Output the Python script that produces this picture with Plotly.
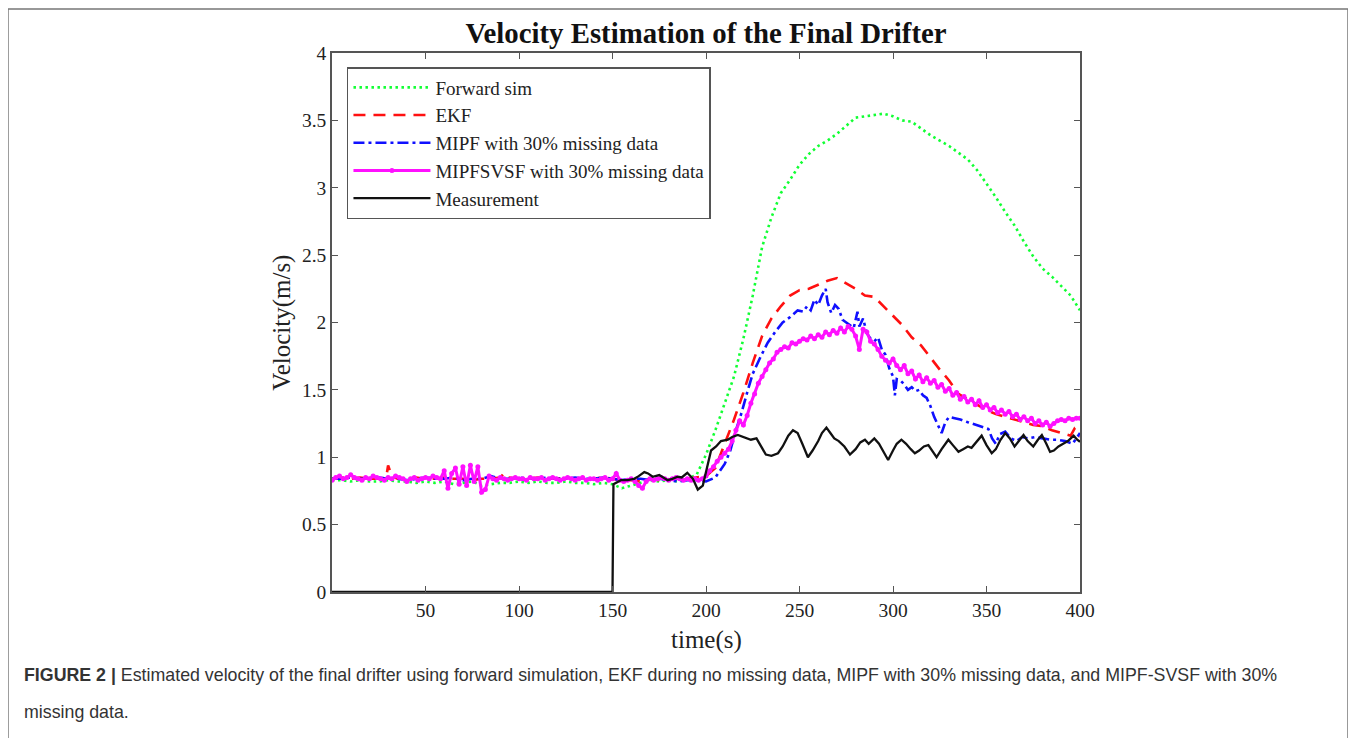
import plotly.graph_objects as go

# ---------------- data ----------------
fwd_t = [0, 5, 10, 15, 20, 25, 30, 35, 40, 45, 50, 55, 60, 65, 70, 75, 80, 85, 90, 95,
         100, 105, 110, 115, 120, 125, 130, 135, 140, 145, 150, 155, 160, 165, 170, 175,
         180, 185, 190, 195, 200, 205, 210, 215, 220, 225, 230, 235, 240, 245, 250, 255,
         260, 265, 270, 275, 280, 285, 290, 295, 300, 305, 310, 315, 320, 325, 330, 335,
         340, 345, 350, 355, 360, 365, 370, 375, 380, 385, 390, 395, 400]
fwd_v = [0.83, 0.83, 0.82, 0.83, 0.82, 0.82, 0.83, 0.82, 0.82, 0.81, 0.82, 0.81, 0.82, 0.80,
         0.81, 0.82, 0.79, 0.80, 0.81, 0.81, 0.82, 0.81, 0.82, 0.81, 0.81, 0.82, 0.81, 0.81,
         0.80, 0.81, 0.80, 0.77, 0.79, 0.81, 0.83, 0.82, 0.83, 0.82, 0.84, 0.87, 1.02, 1.20,
         1.40, 1.60, 1.88, 2.20, 2.56, 2.78, 2.96, 3.06, 3.17, 3.25, 3.31, 3.35, 3.40, 3.46,
         3.52, 3.53, 3.54, 3.55, 3.53, 3.50, 3.49, 3.44, 3.39, 3.35, 3.31, 3.26, 3.21, 3.13,
         3.03, 2.93, 2.82, 2.72, 2.60, 2.49, 2.40, 2.34, 2.27, 2.20, 2.09]

ekf_t = [0, 5, 10, 15, 20, 25, 29, 30, 32, 35, 40, 45, 50, 55, 60, 65, 70, 75, 80, 85, 90,
         92, 94, 100, 105, 110, 115, 120, 125, 130, 135, 140, 145, 150, 155, 160, 165, 170,
         175, 180, 185, 190, 195, 200, 205, 210, 215, 220, 225, 230, 235, 240, 245, 250,
         255, 260, 265, 270, 275, 280, 285, 290, 295, 300, 305, 310, 315, 320, 325, 330,
         335, 340, 345, 350, 355, 360, 365, 370, 375, 380, 385, 390, 395, 397, 400]
ekf_v = [0.84, 0.85, 0.84, 0.85, 0.84, 0.84, 0.85, 0.94, 0.86, 0.84, 0.84, 0.85, 0.84, 0.84,
         0.85, 0.84, 0.84, 0.83, 0.84, 0.84, 0.85, 0.88, 0.85, 0.84, 0.84, 0.85, 0.84, 0.84,
         0.85, 0.84, 0.84, 0.84, 0.85, 0.84, 0.83, 0.83, 0.82, 0.84, 0.83, 0.83, 0.84, 0.84,
         0.85, 0.86, 0.92, 1.10, 1.28, 1.48, 1.70, 1.90, 2.03, 2.12, 2.20, 2.24, 2.25, 2.28,
         2.31, 2.33, 2.29, 2.25, 2.20, 2.19, 2.12, 2.05, 1.98, 1.89, 1.83, 1.74, 1.65, 1.57,
         1.47, 1.43, 1.39, 1.35, 1.32, 1.30, 1.28, 1.26, 1.24, 1.23, 1.20, 1.18, 1.16, 1.21,
         1.15]

mipf_t = [0, 5, 10, 15, 20, 25, 30, 35, 40, 45, 50, 55, 60, 65, 70, 75, 80, 85, 90, 95, 100,
          105, 110, 115, 120, 125, 130, 135, 140, 145, 150, 155, 160, 165, 170, 175, 180, 185,
          190, 195, 200, 205, 210, 213, 216, 219, 222, 225, 229, 233, 237, 241, 245, 249, 252,
          254, 256, 258, 260, 262, 264, 265, 267, 269, 271, 273, 275, 277, 279, 281, 282, 284,
          286, 288, 290, 292, 294, 296, 298, 300, 301, 302, 304, 306, 308, 310, 312, 314, 316,
          318, 320, 322, 324, 326, 328, 330, 333, 336, 340, 344, 348, 351, 353, 355, 357, 360,
          363, 366, 369, 372, 376, 380, 384, 388, 392, 396, 398, 400]
mipf_v = [0.84, 0.84, 0.85, 0.84, 0.84, 0.85, 0.84, 0.84, 0.83, 0.84, 0.85, 0.84, 0.84, 0.85,
          0.83, 0.84, 0.84, 0.86, 0.84, 0.84, 0.85, 0.84, 0.84, 0.85, 0.84, 0.84, 0.85, 0.84,
          0.84, 0.85, 0.84, 0.83, 0.84, 0.84, 0.83, 0.84, 0.83, 0.82, 0.83, 0.83, 0.82, 0.85,
          0.95, 1.05, 1.20, 1.33, 1.48, 1.62, 1.74, 1.85, 1.93, 2.00, 2.04, 2.09, 2.08, 2.12,
          2.09, 2.17, 2.13, 2.20, 2.25, 2.15, 2.07, 2.13, 2.10, 2.02, 2.00, 1.98, 1.96, 2.08,
          1.97, 2.03, 1.92, 1.88, 1.86, 1.89, 1.80, 1.76, 1.66, 1.60, 1.46, 1.58, 1.57, 1.54,
          1.50, 1.52, 1.49, 1.50, 1.46, 1.44, 1.38, 1.30, 1.24, 1.18, 1.26, 1.30, 1.29, 1.28,
          1.26, 1.24, 1.22, 1.21, 1.14, 1.10, 1.17, 1.19, 1.14, 1.12, 1.15, 1.14, 1.15, 1.14,
          1.13, 1.13, 1.12, 1.10, 1.14, 1.18]

svsf_v = [0.83, 0.85, 0.86, 0.84, 0.85, 0.87, 0.85, 0.84, 0.83, 0.85, 0.84,
          0.86, 0.85, 0.84, 0.83, 0.85, 0.84, 0.86, 0.85, 0.84, 0.82,
          0.84, 0.85, 0.83, 0.84, 0.85, 0.84, 0.86, 0.85, 0.84,
          0.90, 0.77, 0.88, 0.92, 0.80, 0.93, 0.79, 0.94, 0.82, 0.93, 0.74,
          0.76, 0.86, 0.84, 0.83, 0.85, 0.84, 0.83, 0.84, 0.85, 0.84,
          0.84, 0.83, 0.85, 0.84, 0.84, 0.85, 0.83, 0.84, 0.85, 0.84, 0.83, 0.84, 0.85,
          0.84, 0.83, 0.84, 0.85, 0.83, 0.84, 0.84, 0.83, 0.84, 0.85, 0.83, 0.84,
          0.88, 0.83, 0.82, 0.83, 0.84, 0.82, 0.79, 0.77, 0.82, 0.84, 0.83, 0.84,
          0.85, 0.84, 0.83, 0.84, 0.85, 0.84, 0.83, 0.84, 0.83, 0.84, 0.83, 0.84,
          0.86, 0.90, 0.93, 0.97, 1.00, 1.03, 1.06, 1.12, 1.20, 1.27, 1.24, 1.31, 1.40,
          1.47, 1.55, 1.60, 1.65, 1.70, 1.73, 1.78, 1.80, 1.82, 1.81, 1.85, 1.84, 1.86,
          1.88, 1.87, 1.90, 1.88, 1.91, 1.89, 1.93, 1.91, 1.94, 1.92, 1.96, 1.93, 1.97,
          1.95, 1.90, 1.80, 1.95, 1.93, 1.86, 1.84, 1.80, 1.75, 1.72, 1.70, 1.73,
          1.68, 1.65, 1.68, 1.62, 1.64, 1.58, 1.61, 1.56, 1.59, 1.55, 1.57, 1.52, 1.54,
          1.49, 1.51, 1.46, 1.48, 1.43, 1.45, 1.41, 1.43, 1.39, 1.42, 1.37, 1.39, 1.35,
          1.37, 1.33, 1.35, 1.32, 1.34, 1.30, 1.32, 1.28, 1.30, 1.27, 1.29, 1.25, 1.27,
          1.24, 1.26, 1.23, 1.25, 1.27, 1.28, 1.27, 1.29, 1.28, 1.29, 1.29]
svsf_t = [2 * i for i in range(len(svsf_v))]

meas_t = [0, 150, 150.5, 152, 154.5, 158, 161.6, 164, 167, 169, 171.5, 175, 177, 179.5, 182,
          184.9, 187, 190, 193, 195.6, 198.3, 200.5, 202.7, 205.4, 208, 211.7, 214, 217, 220,
          222, 224, 227, 229.5, 232, 235, 238.5, 241, 244, 246.5, 249, 251.5, 254.5, 257, 260,
          262, 264.4, 266.5, 268.6, 271, 274, 277, 280, 282.5, 285, 287, 290, 292.5, 295,
          297.4, 300, 302, 304.5, 307, 309.5, 311.7, 314, 316.5, 318.9, 321, 323.3, 326,
          329.6, 332, 335, 337.5, 340, 342, 344.5, 347.4, 350, 352.8, 355, 357.5, 360, 362.5,
          365, 367.5, 369.8, 372, 375, 377.5, 379.6, 382, 384, 386, 388.5, 391, 393.5, 396.6,
          398.5, 400]
meas_v = [0, 0, 0.80, 0.81, 0.83, 0.83, 0.84, 0.86, 0.89, 0.88, 0.855, 0.868, 0.85, 0.83,
          0.84, 0.855, 0.85, 0.885, 0.84, 0.76, 0.79, 0.93, 1.05, 1.08, 1.12, 1.13, 1.15, 1.165,
          1.15, 1.14, 1.13, 1.14, 1.08, 1.02, 1.01, 1.03, 1.08, 1.16, 1.20, 1.18, 1.10, 1.00,
          1.05, 1.12, 1.18, 1.22, 1.18, 1.14, 1.12, 1.08, 1.02, 1.06, 1.11, 1.13, 1.10, 1.14,
          1.10, 1.04, 0.98, 1.05, 1.10, 1.13, 1.10, 1.06, 1.03, 1.05, 1.08, 1.09, 1.05, 1.00,
          1.06, 1.13, 1.09, 1.04, 1.06, 1.08, 1.07, 1.11, 1.16, 1.09, 1.03, 1.06, 1.13, 1.18,
          1.14, 1.08, 1.12, 1.165, 1.12, 1.08, 1.13, 1.165, 1.10, 1.04, 1.05, 1.08, 1.10, 1.12,
          1.16, 1.13, 1.115]

names = ["Forward sim", "EKF", "MIPF with 30% missing data",
         "MIPFSVSF with 30% missing data", "Measurement"]
x_ticks = [50, 100, 150, 200, 250, 300, 350, 400]
y_ticks = [0, 0.5, 1, 1.5, 2, 2.5, 3, 3.5, 4]
y_tick_text = ["0", "0.5", "1", "1.5", "2", "2.5", "3", "3.5", "4"]

SERIF = "Liberation Serif, Times New Roman, serif"
SANS = "Liberation Sans, Arial, sans-serif"

fig = go.Figure()
fig.add_trace(go.Scatter(x=fwd_t, y=fwd_v, name=names[0], mode="lines",
                         line=dict(color="#11ff33", width=2.6, dash="2.5px,3.5px")))
fig.add_trace(go.Scatter(x=ekf_t, y=ekf_v, name=names[1], mode="lines",
                         line=dict(color="#ff1010", width=2.6, dash="12px,8px")))
fig.add_trace(go.Scatter(x=mipf_t, y=mipf_v, name=names[2], mode="lines",
                         line=dict(color="#1010ff", width=2.6, dash="11px,4px,3px,4px")))
fig.add_trace(go.Scatter(x=svsf_t, y=svsf_v, name=names[3], mode="lines+markers",
                         line=dict(color="#ff10ff", width=3),
                         marker=dict(color="#ff10ff", size=5)))
fig.add_trace(go.Scatter(x=meas_t, y=meas_v, name=names[4], mode="lines",
                         line=dict(color="#111111", width=2.3)))

axis_common = dict(showline=True, linecolor="#555555", linewidth=1.5, mirror="ticks",
                   ticks="inside", ticklen=6, tickwidth=1.2, tickcolor="#555555",
                   showgrid=False, zeroline=False,
                   tickfont=dict(family=SERIF, size=19.5, color="#222222"))

fig.update_layout(
    width=1344, height=730,
    margin=dict(l=324, r=272, t=45, b=146),
    paper_bgcolor="white", plot_bgcolor="white",
    showlegend=True,
    legend=dict(x=0.02, y=0.974, xanchor="left", yanchor="top",
                bordercolor="#555555", borderwidth=1.5, bgcolor="white",
                font=dict(family=SERIF, size=19, color="#222222"),
                tracegroupgap=0, itemwidth=77),
    title=dict(text="<b>Velocity Estimation of the Final Drifter</b>",
               x=(706 - 8) / 1344, xanchor="center", y=1 - (33 - 8) / 730, yanchor="middle",
               xref="container", yref="container",
               font=dict(family=SERIF, size=28.8, color="#111111")),
)
fig.update_xaxes(range=[0, 400], tickvals=x_ticks, **axis_common)
fig.update_yaxes(range=[0, 4], tickvals=y_ticks, ticktext=y_tick_text, **axis_common)

# axis titles
fig.add_annotation(text="time(s)", xref="paper", yref="paper", x=0.5, y=-0.089,
                   xanchor="center", yanchor="middle", showarrow=False,
                   font=dict(family=SERIF, size=25, color="#222222"))
fig.add_annotation(text="Velocity(m/s)", xref="paper", yref="paper", x=-0.068, y=0.5,
                   xanchor="center", yanchor="middle", showarrow=False, textangle=-90,
                   font=dict(family=SERIF, size=25, color="#222222"))

# caption
fig.add_annotation(
    text="<b>FIGURE 2 |</b> Estimated velocity of the final drifter using forward simulation, "
         "EKF during no missing data, MIPF with 30% missing data, and MIPF-SVSF with 30%",
    xref="paper", yref="paper", x=-0.4144, y=-0.154, xanchor="left", yanchor="middle",
    showarrow=False, font=dict(family=SANS, size=17.8, color="#333333"))
fig.add_annotation(
    text="missing data.", xref="paper", yref="paper", x=-0.4144, y=-0.2226,
    xanchor="left", yanchor="middle", showarrow=False,
    font=dict(family=SANS, size=17.8, color="#333333"))

# outer frame
fig.add_shape(type="rect", xref="paper", yref="paper", x0=-0.4332, x1=1.3583,
              y0=-0.30, y1=1.0816, line=dict(color="#777777", width=1.5), layer="below")

fig.write_html("out.html")
